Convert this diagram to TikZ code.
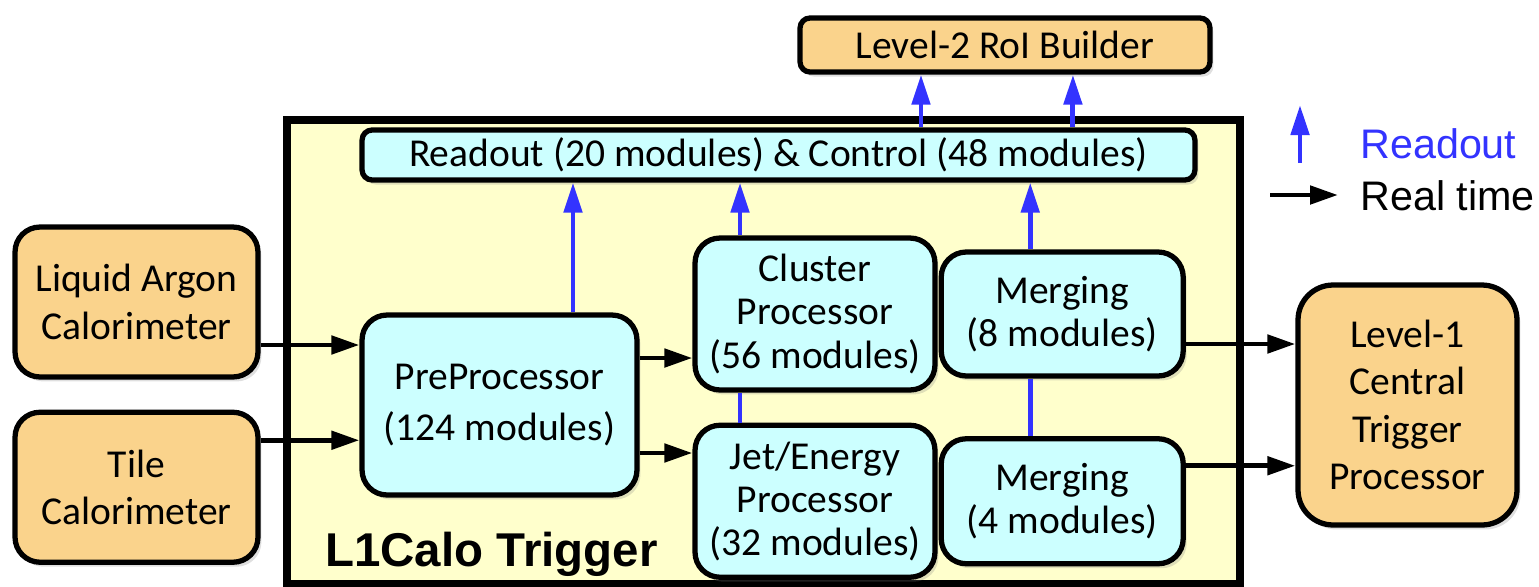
\documentclass[tikz,border=0pt]{standalone}
\usepackage{fontspec}
\setmainfont{Carlito}
\newfontfamily\legendfont{Liberation Sans}
\usepackage{tikz}
\usetikzlibrary{arrows.meta}
\usetikzlibrary{shadows}
\usetikzlibrary{positioning}
\definecolor{calorange}{RGB}{250,211,140}
\definecolor{modcyan}{RGB}{204,255,255}
\definecolor{trigyellow}{RGB}{255,255,204}
\definecolor{roblue}{RGB}{51,51,255}
\tikzset{inner sep=0pt, font=\fontsize{22.5}{27}\selectfont}
\tikzstyle{boxshadow} = [drop shadow={shadow xshift=0.07cm, shadow yshift=-0.09cm, opacity=0.25}]
\tikzstyle{calo} = [draw, line width=3pt, fill=calorange, rounded corners=0.5cm, align=center, boxshadow]
\tikzstyle{module} = [draw, line width=3pt, fill=modcyan, rounded corners=0.5cm, align=center, font=\fontsize{22.5}{24.5}\selectfont, boxshadow]
\tikzstyle{trigframe} = [draw, line width=4.2pt, fill=trigyellow]
\tikzstyle{realtime} = [draw, line width=2.8pt, -{Triangle[length=0.56cm, width=0.36cm]}]
\tikzstyle{readout} = [draw=roblue, line width=2.8pt, -{Triangle[length=0.6cm, width=0.36cm]}]
\tikzstyle{rolink} = [draw=roblue, line width=2.8pt]
\tikzstyle{legendtext} = [anchor=base west, font=\legendfont\fontsize{23.5}{23.5}\selectfont]
\tikzstyle{input} = [coordinate]

\begin{document}
\begin{tikzpicture}[x=0.02cm, y=-0.02cm]
	\useasboundingbox (0,0) rectangle (1539,586);

	\node [trigframe, minimum width=19.06cm, minimum height=9.28cm] (l1calo) at (763.5,352) {};
	\node [anchor=base west, font=\legendfont\bfseries\fontsize{27}{27}\selectfont] (l1calo_name) at (325,566) {L1Calo Trigger};

	\node [calo, minimum width=4.86cm, minimum height=3cm] (lar_cal) at (136.5,302) {Liquid Argon\\Calorimeter};
	\node [calo, minimum width=4.86cm, minimum height=3cm, below=0.6cm of lar_cal] (tile_cal) {Tile\\Calorimeter};

	\node [module, minimum width=5.5cm, minimum height=3.6cm] (ppr) at (499.5,405) {PreProcessor\\[4.5pt](124 modules)};
	\node [module, minimum width=4.8cm, minimum height=3.04cm] (cp) at (815,314) {Cluster\\Processor\\(56 modules)};
	\node [module, minimum width=4.8cm, minimum height=3.04cm, below=0.6cm of cp] (jep) {Jet/Energy\\Processor\\(32 modules)};
	\node [module, minimum width=4.84cm, minimum height=2.48cm, right=0.02cm of cp] (cmm_cp) {Merging\\(8 modules)};
	\node [module, minimum width=4.84cm, minimum height=2.5cm, right=0.02cm of jep] (cmm_jep) {Merging\\(4 modules)};

	\node [calo, minimum width=4.38cm, minimum height=4.8cm, rounded corners=0.7cm] (ctp) at (1407.5,405) {Level-1\\Central\\Trigger\\Processor};

	\node [module, minimum width=16.66cm, minimum height=1cm, rounded corners=0.2cm] (ro_bar) at (778.5,155) {Readout (20 modules) \& Control (48 modules)};
	\node [calo, minimum width=8.2cm, minimum height=1.08cm, rounded corners=0.2cm] (roib) at (1005,45) {Level-2 RoI Builder};

	\node [input] at ([yshift=-0.86cm]lar_cal.east) (lar_out) {};
	\node [input] at ([yshift=0.94cm]tile_cal.east) (tile_out) {};
	\node [input] at ([yshift=0.94cm]ppr.east) (ppr_cp) {};
	\node [input] at ([yshift=-0.96cm]ppr.east) (ppr_jep) {};
	\node [input] at ([yshift=-0.6cm]cmm_cp.east) (cmm_cp_out) {};
	\node [input] at ([yshift=0.71cm]cmm_jep.east) (cmm_jep_out) {};

	\draw [realtime] (lar_out) -- (lar_out -| ppr.west);
	\draw [realtime] (tile_out) -- (tile_out -| ppr.west);
	\draw [realtime] (ppr_cp) -- (ppr_cp -| cp.west);
	\draw [realtime] (ppr_jep) -- (ppr_jep -| jep.west);
	\draw [realtime] (cmm_cp_out) -- (cmm_cp_out -| ctp.west);
	\draw [realtime] (cmm_jep_out) -- (cmm_jep_out -| ctp.west);

	\node [input] at ([xshift=1.47cm]ppr.north) (ppr_ro) {};
	\node [input] at ([xshift=-1.5cm]cp.north) (cp_ro) {};
	\node [input] at ([xshift=-0.64cm]cmm_cp.north) (cmm_ro) {};
	\node [input] at ([xshift=2.85cm]ro_bar.north) (bar_ro1) {};
	\node [input] at ([xshift=5.89cm]ro_bar.north) (bar_ro2) {};

	\draw [readout] (ppr_ro) -- (ppr_ro |- ro_bar.south);
	\draw [readout] (cp_ro) -- (cp_ro |- ro_bar.south);
	\draw [readout] (cmm_ro) -- (cmm_ro |- ro_bar.south);
	\draw [rolink] (jep.north -| cp_ro) -- (cp.south -| cp_ro);
	\draw [rolink] (cmm_jep.north -| cmm_ro) -- (cmm_cp.south -| cmm_ro);
	\draw [readout] (bar_ro1) -- (bar_ro1 |- roib.south);
	\draw [readout] (bar_ro2) -- (bar_ro2 |- roib.south);

	\node [legendtext, text=roblue] (leg_ro) at (1360,158) {Readout};
	\node [legendtext] (leg_rt) at (1360,210) {Real time};
	\node [input] at (1300,163) (leg_ro_s) {};
	\node [input] at (1300,105) (leg_ro_e) {};
	\node [input] at (1270,195) (leg_rt_s) {};
	\node [input] at (1338,195) (leg_rt_e) {};
	\draw [readout] (leg_ro_s) -- (leg_ro_e);
	\draw [realtime] (leg_rt_s) -- (leg_rt_e);
\end{tikzpicture}
\end{document}
